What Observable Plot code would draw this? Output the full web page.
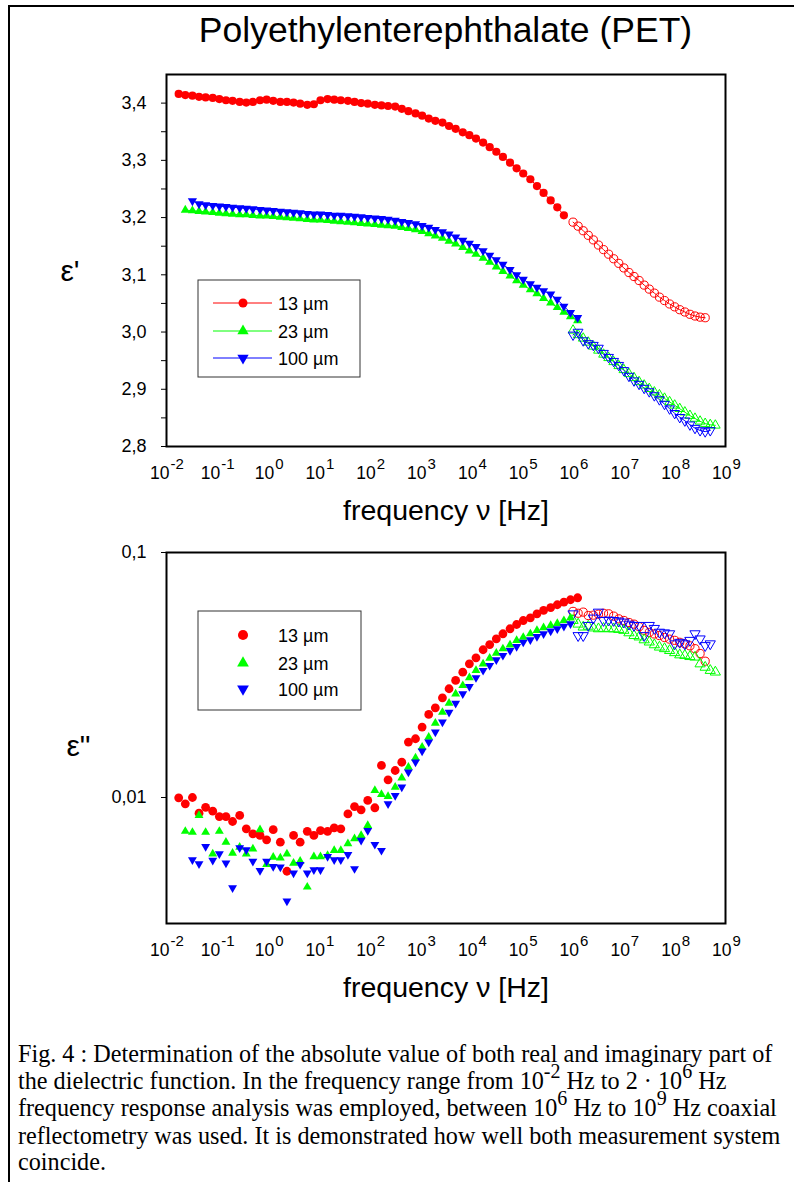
<!DOCTYPE html>
<html>
<head>
<meta charset="utf-8">
<script src="https://cdn.jsdelivr.net/npm/d3@7"></script>
<script src="https://cdn.jsdelivr.net/npm/@observablehq/plot@0.6"></script>
<style>
  body { margin: 0; background: #fff; }
  #page { position: relative; width: 794px; height: 1182px; overflow: hidden; font-family: "Liberation Sans", Arial, sans-serif; }
  #border { position: absolute; left: 8px; top: 5px; width: 900px; height: 1300px; border: 2px solid #000; }
  #title { position: absolute; left: 166px; width: 559px; top: 13px; text-align: center; font-size: 35.5px; line-height: 35.5px; white-space: nowrap; }
  .chart { position: absolute; left: 0; }
  #caption { position: absolute; left: 18px; top: 1041px; font-family: "Liberation Serif", "Times New Roman", serif; font-size: 24.2px; line-height: 26.6px; white-space: nowrap; }
  #caption .sup { position: relative; top: -11px; font-size: 20px; }
</style>
</head>
<body>
<div id="page">
  <div id="border"></div>
  <div id="title">Polyethylenterephthalate (PET)</div>
  <div id="topChart" class="chart" style="top:0px"></div>
  <div id="bottomChart" class="chart" style="top:540px"></div>
  <div id="caption">
    <div>Fig. 4 : Determination of the absolute value of both real and imaginary part of</div>
    <div>the dielectric function. In the frequency range from 10<span class="sup">-2</span> Hz to 2 · 10<span class="sup">6</span> Hz</div>
    <div>frequency response analysis was employed, between 10<span class="sup">6</span> Hz to 10<span class="sup">9</span> Hz coaxial</div>
    <div>reflectometry was used. It is demonstrated how well both measurement system</div>
    <div>coincide.</div>
  </div>
</div>
<script>
// ---------------- DATA ----------------
// log10 of frequency, frequency response analysis grid
const lfFRA = [-1.76,-1.63,-1.49,-1.36,-1.23,-1.09,-0.96,-0.83,-0.70,-0.56,
  -0.43,-0.30,-0.16,-0.03,0.10,0.24,0.37,0.50,0.63,0.77,
  0.90,1.03,1.17,1.30,1.43,1.57,1.70,1.83,1.96,2.10,
  2.23,2.36,2.50,2.63,2.76,2.90,3.03,3.16,3.29,3.43,
  3.56,3.69,3.83,3.96,4.09,4.23,4.36,4.49,4.62,4.76,
  4.89,5.02,5.16,5.29,5.42,5.56,5.69,5.82,5.95,6.09];
// log10 of frequency, coaxial reflectometry grid
const lfRefl = [6.0,6.1,6.2,6.3,6.4,6.5,6.6,6.7,6.8,6.9,
  7.0,7.1,7.2,7.3,7.4,7.5,7.6,7.7,7.8,7.9,
  8.0,8.1,8.2,8.3,8.4,8.5,8.6,8.7,8.8];

const seriesNames = ["13 µm", "23 µm", "100 µm"];
const seriesColors = ["#ff0000", "#00ff00", "#0000ff"];

// eps' (real part), FRA
const eps1_13 = [3.416,3.414,3.413,3.411,3.410,3.409,3.407,3.405,3.404,3.402,
  3.401,3.402,3.405,3.406,3.404,3.402,3.402,3.401,3.399,3.397,
  3.398,3.405,3.407,3.406,3.405,3.404,3.402,3.400,3.399,3.397,
  3.396,3.395,3.394,3.390,3.386,3.382,3.378,3.373,3.369,3.366,
  3.360,3.355,3.349,3.344,3.338,3.331,3.323,3.315,3.306,3.296,
  3.286,3.277,3.267,3.255,3.243,3.230,3.218,3.204,null,null];
const eps1_23 = [null,3.213,3.212,3.211,3.210,3.209,3.208,3.207,3.206,3.205,
  3.205,3.204,3.203,3.203,3.202,3.201,3.200,3.199,3.198,3.197,
  3.196,3.196,3.195,3.194,3.193,3.192,3.191,3.190,3.189,3.188,
  3.187,3.186,3.185,3.183,3.181,3.179,3.176,3.172,3.168,3.164,
  3.159,3.154,3.148,3.142,3.136,3.129,3.122,3.114,3.106,3.098,
  3.090,3.082,3.074,3.067,3.059,3.051,3.043,3.035,3.027,3.020];
const eps1_100 = [null,null,3.229,3.224,3.222,3.221,3.220,3.219,3.218,3.217,
  3.216,3.215,3.214,3.213,3.212,3.211,3.210,3.209,3.208,3.207,
  3.206,3.206,3.205,3.204,3.204,3.203,3.202,3.201,3.200,3.199,
  3.198,3.197,3.195,3.193,3.191,3.189,3.186,3.183,3.179,3.175,
  3.171,3.166,3.160,3.155,3.149,3.142,3.134,3.126,3.118,3.109,
  3.100,3.092,3.084,3.078,3.072,3.066,3.057,3.045,3.034,3.025];
// eps' (real part), reflectometry
const eps1R_13 = [3.192,3.185,3.177,3.169,3.161,3.152,3.144,3.136,3.128,3.120,
  3.112,3.104,3.097,3.090,3.082,3.075,3.068,3.061,3.055,3.049,
  3.044,3.039,3.035,3.031,3.028,3.026,3.025,null,null];
const eps1R_23 = [3.003,2.995,2.989,2.982,2.975,2.968,2.961,2.955,2.948,2.941,
  2.934,2.927,2.920,2.913,2.907,2.901,2.895,2.890,2.884,2.878,
  2.872,2.866,2.860,2.854,2.849,2.844,2.840,2.838,2.837];
const eps1R_100 = [2.995,3.000,2.985,2.980,2.977,2.972,2.963,2.956,2.949,2.942,
  2.933,2.923,2.915,2.909,2.902,2.896,2.889,2.882,2.874,2.866,
  2.858,2.851,2.845,2.838,2.832,2.828,2.826,2.828,null];

// eps'' (imaginary part), FRA
const eps2_13 = [0.00997,0.00942,0.0100,0.00863,0.00912,0.00879,0.00836,0.00836,0.00798,0.00845,
  0.00745,0.00711,0.00700,0.00672,0.00739,0.00657,0.00500,0.00700,0.00657,0.00728,
  0.00700,0.00733,0.00728,0.00752,0.00745,0.00857,0.00918,0.00891,0.00973,0.00908,
  0.01352,0.01181,0.01289,0.01393,0.01683,0.01737,0.01938,0.02183,0.02323,0.02552,
  0.02779,0.03006,0.03246,0.03513,0.03717,0.04009,0.04209,0.04443,0.04659,0.04883,
  0.05083,0.05277,0.05410,0.05619,0.05800,0.05960,0.06120,0.06273,0.06415,0.06535];
const eps2_23 = [null,0.00728,0.00721,0.00845,0.00721,0.00589,0.00728,0.00657,0.00593,0.00627,
  0.00589,0.00617,0.00739,0.00533,0.00571,0.00567,0.00589,0.00540,0.00550,0.00431,
  0.00574,0.00574,0.00580,0.00608,0.00608,0.00648,0.00679,0.00700,0.00769,0.01069,
  0.01029,0.01010,0.01102,0.01202,0.01330,0.01452,0.01604,0.01762,0.02010,0.02228,
  0.02425,0.02649,0.02864,0.03082,0.03300,0.03513,0.03707,0.03882,0.04045,0.04198,
  0.04375,0.04508,0.04659,0.04808,0.04932,0.05036,0.05140,0.05277,0.05410,null];
const eps2_100 = [null,null,0.00557,0.00536,0.00631,0.00554,0.00589,0.00540,0.00428,0.00623,
  0.00611,0.00549,0.00503,0.00549,0.00522,0.00520,0.00378,0.00491,0.00533,0.00491,
  0.00507,0.00507,0.00574,0.00557,0.00557,0.00585,0.00512,0.00668,0.00733,0.00643,
  0.00608,0.00942,0.01019,0.01102,0.01269,0.01396,0.01546,0.01683,0.01849,0.02030,
  0.02228,0.02425,0.02649,0.02838,0.03082,0.03300,0.03459,0.03648,0.03800,0.03981,
  0.04131,0.04303,0.04404,0.04541,0.04659,0.04775,0.04883,0.04995,0.05117,null];
// eps'' (imaginary part), reflectometry
const eps2R_13 = [0.0575,0.0565,0.0571,0.0553,0.0555,0.0560,0.0565,0.0562,0.0550,0.0536,
  0.0528,0.0518,0.0510,0.0498,0.0481,0.0472,0.0465,0.0458,0.0450,0.0443,
  0.0438,0.0430,0.0424,0.0416,0.0405,0.0387,0.0360,null,null];
const eps2R_23 = [0.0528,0.0510,0.0496,0.0500,0.0492,0.0488,0.0490,0.0488,0.0488,0.0485,
  0.0481,0.0470,0.0458,0.0452,0.0440,0.0431,0.0420,0.0411,0.0405,0.0398,
  0.0390,0.0382,0.0380,0.0376,0.0374,0.0351,0.0340,0.0330,0.0325];
const eps2R_100 = [0.0562,0.0458,0.0458,0.0504,0.0540,0.0571,0.0528,0.0530,0.0528,0.0525,
  0.0520,0.0510,0.0504,0.0504,0.0458,0.0504,0.0490,0.0473,0.0470,0.0466,
  0.0424,0.0430,0.0424,0.0438,0.0466,0.0444,0.0417,0.0424,null];

// axis ticks
const decades = [-2,-1,0,1,2,3,4,5,6,7,8,9];
const yTopMajor = [2.8,2.9,3.0,3.1,3.2,3.3,3.4];
const yTopMinor = [2.85,2.95,3.05,3.15,3.25,3.35];
const yBotMajor = [0.01,0.1];
const xLabel = "frequency ν [Hz]";

// ---------------- HELPERS ----------------
const font = "'Liberation Sans', Arial, sans-serif";
function rows(lf, vals) {
  return lf.map((l, i) => ({f: Math.pow(10, l), v: vals[i]})).filter(d => d.v != null);
}
const triangleDown = {
  draw(context, size) {
    const s3 = Math.sqrt(3);
    const y = -Math.sqrt(size / (s3 * 3));
    context.moveTo(0, -y * 2);
    context.lineTo(s3 * y, y);
    context.lineTo(-s3 * y, y);
    context.closePath();
  }
};
const symbols = ["circle", "triangle", triangleDown];
const d3symbols = [d3.symbolCircle, d3.symbolTriangle, triangleDown];
const negDec = decades.filter(d => d < 0), posDec = decades.filter(d => d >= 0);

function xTickLabels() {
  const common = {x: d => Math.pow(10, d), frameAnchor: "bottom", lineAnchor: "bottom", fill: "black"};
  return [
    Plot.text(negDec, {...common, text: () => "10", textAnchor: "end", dx: 3, dy: 32, fontSize: 17.5}),
    Plot.text(negDec, {...common, text: d => String(d), textAnchor: "start", dx: 4, dy: 22, fontSize: 15}),
    Plot.text(posDec, {...common, text: () => "10", textAnchor: "end", dx: 6, dy: 32, fontSize: 17.5}),
    Plot.text(posDec, {...common, text: d => String(d), textAnchor: "start", dx: 7, dy: 22, fontSize: 15})
  ];
}

// ---------------- TOP CHART: eps' ----------------
const fraTop = [eps1_13, eps1_23, eps1_100];
const reflTop = [eps1R_13, eps1R_23, eps1R_100];
const topMarks = [];
fraTop.forEach((vals, k) => {
  topMarks.push(Plot.line(rows(lfFRA, vals), {x: "f", y: "v", stroke: seriesColors[k], strokeWidth: 1}));
});
reflTop.forEach((vals, k) => {
  topMarks.push(Plot.line(rows(lfRefl, vals), {x: "f", y: "v", stroke: seriesColors[k], strokeWidth: 1}));
});
fraTop.forEach((vals, k) => {
  topMarks.push(Plot.dot(rows(lfFRA, vals), {x: "f", y: "v", symbol: symbols[k], r: k === 0 ? 4.1 : 3.4, fill: seriesColors[k], stroke: "none"}));
});
reflTop.forEach((vals, k) => {
  topMarks.push(Plot.dot(rows(lfRefl, vals), {x: "f", y: "v", symbol: symbols[k], r: k === 0 ? 4.1 : 3.6, fill: "none", stroke: seriesColors[k], strokeWidth: 1}));
});

const topPlot = Plot.plot({
  width: 794, height: 540,
  marginLeft: 166, marginRight: 69, marginTop: 74, marginBottom: 94,
  x: {type: "log", domain: [1e-2, 1e9], axis: null},
  y: {domain: [2.8, 3.45], axis: null, label: null},
  style: {fontFamily: font, fontSize: "18px", background: "transparent", overflow: "visible", color: "black"},
  marks: [
    ...topMarks,
    Plot.frame({stroke: "black", strokeWidth: 2}),
    Plot.axisY({ticks: yTopMajor, tickSize: 5, tickPadding: 15, label: null, fontSize: 18,
      tickFormat: d => d.toFixed(1).replace(".", ",")}),
    Plot.axisY({ticks: yTopMinor, tickSize: 5, label: null, tickFormat: () => ""}),
    ...xTickLabels(),
    Plot.text([xLabel], {frameAnchor: "bottom", dy: 73, fontSize: 28.5, fill: "black"}),
    Plot.text(["ε'"], {frameAnchor: "left", dx: -106, dy: 11, fontSize: 30, fill: "black"})
  ]
});
document.getElementById("topChart").appendChild(topPlot);

// ---------------- BOTTOM CHART: eps'' ----------------
const fraBot = [eps2_13, eps2_23, eps2_100];
const reflBot = [eps2R_13, eps2R_23, eps2R_100];
const botMarks = [];
reflBot.forEach((vals, k) => {
  botMarks.push(Plot.dot(rows(lfRefl, vals), {x: "f", y: "v", symbol: symbols[k], r: k === 0 ? 4.1 : 3.8, fill: "none", stroke: seriesColors[k], strokeWidth: 1}));
});
fraBot.forEach((vals, k) => {
  botMarks.push(Plot.dot(rows(lfFRA, vals), {x: "f", y: "v", symbol: symbols[k], r: k === 0 ? 4.4 : 3.3, fill: seriesColors[k], stroke: "none"}));
});

const botPlot = Plot.plot({
  width: 794, height: 470,
  marginLeft: 166, marginRight: 69, marginTop: 12, marginBottom: 87,
  x: {type: "log", domain: [1e-2, 1e9], axis: null},
  y: {type: "log", domain: [0.00306, 0.1], axis: null, label: null},
  style: {fontFamily: font, fontSize: "18px", background: "transparent", overflow: "visible", color: "black"},
  marks: [
    ...botMarks,
    Plot.frame({stroke: "black", strokeWidth: 2}),
    Plot.axisY({ticks: yBotMajor, tickSize: 5, tickPadding: 15, label: null, fontSize: 18,
      tickFormat: d => String(d).replace(".", ",")}),
    ...xTickLabels(),
    Plot.text([xLabel], {frameAnchor: "bottom", dy: 73, fontSize: 28.5, fill: "black"}),
    Plot.text(['ε"'], {frameAnchor: "left", dx: -100, dy: 8, fontSize: 30, fill: "black"})
  ]
});
document.getElementById("bottomChart").appendChild(botPlot);

// ---------------- LEGENDS ----------------
function legend(left, top, w, h, rowsY, withLine, symSizes) {
  const svg = d3.create("svg")
    .attr("width", w + 2).attr("height", h + 2)
    .style("position", "absolute").style("left", left + "px").style("top", top + "px");
  svg.append("rect").attr("x", 1).attr("y", 1).attr("width", w - 1).attr("height", h - 1)
    .attr("fill", "white").attr("stroke", "#333").attr("stroke-width", 1);
  seriesNames.forEach((name, k) => {
    const y = rowsY[k];
    if (withLine) {
      svg.append("line").attr("x1", 16).attr("x2", 75).attr("y1", y).attr("y2", y)
        .attr("stroke", seriesColors[k]).attr("stroke-width", 1);
    }
    svg.append("path").attr("transform", `translate(46,${y})`)
      .attr("d", d3.symbol(d3symbols[k], symSizes[k])())
      .attr("fill", seriesColors[k]);
    svg.append("text").attr("x", 81).attr("y", y + 6.5)
      .attr("font-family", font).attr("font-size", 18).attr("fill", "black").text(name);
  });
  document.getElementById("page").appendChild(svg.node());
}
legend(197, 279, 163, 98, [24, 52, 79], true, [64, 55, 55]);
legend(197, 610, 164, 100, [25, 53, 79], false, [80, 60, 60]);
</script>
</body>
</html>
